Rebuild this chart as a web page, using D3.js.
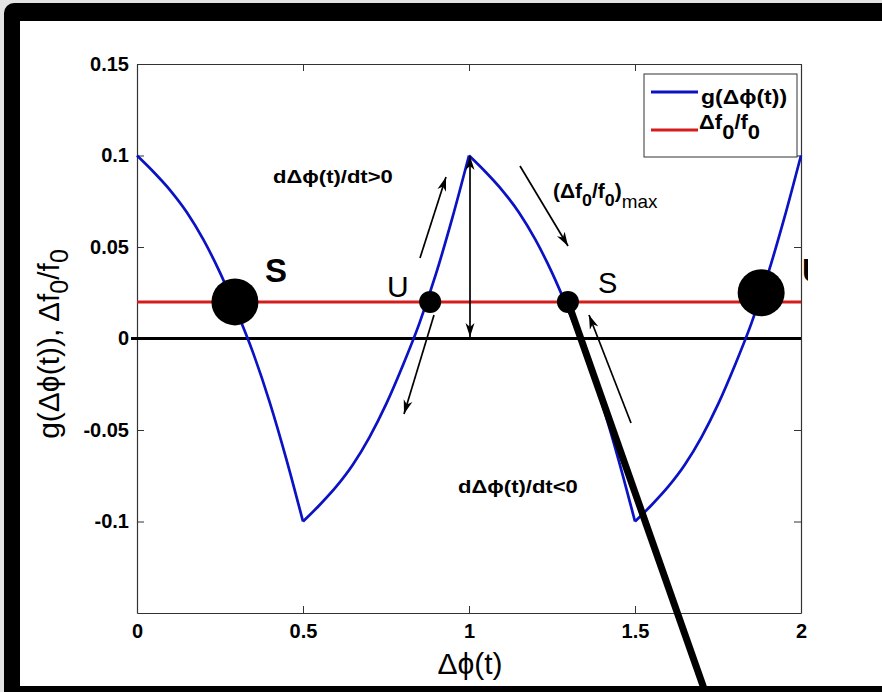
<!DOCTYPE html>
<html><head><meta charset="utf-8">
<script src="https://cdn.jsdelivr.net/npm/d3@7"></script>
<style>body{margin:0;background:#fff;overflow:hidden}</style>
</head><body>
<script>
// ---- data ----
const phi = [0,0.05,0.10,0.15,0.20,0.25,0.30,0.35,0.40,0.45,0.50,
             0.55,0.60,0.65,0.70,0.75,0.80,0.85,0.90,0.95,1.00,
             1.05,1.10,1.15,1.20,1.25,1.30,1.35,1.40,1.45,1.50,
             1.55,1.60,1.65,1.70,1.75,1.80,1.85,1.90,1.95,2.00];
const gVals = [0.100,0.091,0.081,0.069,0.054,0.036,0.015,-0.008,-0.035,-0.066,-0.100,
               -0.091,-0.081,-0.069,-0.054,-0.036,-0.015,0.008,0.035,0.066,0.100,
               0.091,0.081,0.069,0.054,0.036,0.015,-0.008,-0.035,-0.066,-0.100,
               -0.091,-0.081,-0.069,-0.054,-0.036,-0.015,0.008,0.035,0.066,0.100];
const branchBreaks = [0, 10, 20, 30, 40];   // indices of the cusps
const levelPhi = [0, 2];
const levelVals = [0.02, 0.02];
const xTicks = [0, 0.5, 1, 1.5, 2];
const xTickLabels = ["0", "0.5", "1", "1.5", "2"];
const yTicks = [0.15, 0.1, 0.05, 0, -0.05, -0.1];
const yTickLabels = ["0.15", "0.1", "0.05", "0", "-0.05", "-0.1"];
const bigDotPhi = [0.295, 1.88];
const bigDotVal = [0.02, 0.025];
const smallDotPhi = [0.883, 1.298];
const smallDotVal = [0.02, 0.02];

// ---- setup ----
const W = 882, H = 692;
const FONT = "'Liberation Sans', Arial, Helvetica, sans-serif";
const PHI = "\u03D5";
const svg = d3.select("body").append("svg").attr("width", W).attr("height", H)
  .style("font-family", FONT);

// frame
svg.append("rect").attr("width", W).attr("height", H).attr("fill", "#e4e4e4");
svg.append("rect").attr("x", 4).attr("y", 3).attr("width", W + 20).attr("height", H + 20)
  .attr("rx", 10).attr("fill", "#000");
svg.append("rect").attr("x", 20).attr("y", 21).attr("width", W - 20).attr("height", 665).attr("fill", "#fff");

const x = d3.scaleLinear().domain([0, 2]).range([137, 801]);
const y = d3.scaleLinear().domain([-0.15, 0.15]).range([613, 64]);

const defs = svg.append("defs");
defs.append("marker").attr("id", "ah").attr("viewBox", "0 0 14 10")
  .attr("refX", 14).attr("refY", 5).attr("markerWidth", 14).attr("markerHeight", 10)
  .attr("markerUnits", "userSpaceOnUse").attr("orient", "auto-start-reverse")
  .append("path").attr("d", "M0,0.5 L14,5 L0,9.5 L4,5 Z").attr("fill", "#000");
defs.append("clipPath").attr("id", "uclip").append("rect")
  .attr("x", 790).attr("y", 240).attr("width", 18).attr("height", 60);

// axes box
const axisCol = "#333";
const gx = svg.append("g").attr("transform", `translate(0,${y(-0.15)})`)
  .call(d3.axisBottom(x).tickValues(xTicks).tickFormat((d, i) => xTickLabels[i]).tickSizeInner(-7).tickSizeOuter(0).tickPadding(11));
const gxt = svg.append("g").attr("transform", `translate(0,${y(0.15)})`)
  .call(d3.axisTop(x).tickValues(xTicks).tickFormat("").tickSizeInner(-7).tickSizeOuter(0));
const gy = svg.append("g").attr("transform", `translate(${x(0)},0)`)
  .call(d3.axisLeft(y).tickValues(yTicks).tickFormat((d, i) => yTickLabels[i]).tickSizeInner(-7).tickSizeOuter(0).tickPadding(8));
const gyr = svg.append("g").attr("transform", `translate(${x(2)},0)`)
  .call(d3.axisRight(y).tickValues(yTicks).tickFormat("").tickSizeInner(-7).tickSizeOuter(0));
[gx, gxt, gy, gyr].forEach(g => {
  g.select(".domain").attr("stroke", axisCol).attr("stroke-width", 1.2);
  g.selectAll(".tick line").attr("stroke", axisCol).attr("stroke-width", 1);
  g.selectAll("text").attr("font-size", 20).attr("font-weight", "bold").attr("fill", "#000")
    .attr("font-family", FONT);
});

// zero line
svg.append("line").attr("x1", x(0) - 6).attr("x2", x(2)).attr("y1", y(0)).attr("y2", y(0))
  .attr("stroke", "#000").attr("stroke-width", 3);

// level line
const line = d3.line().x(d => x(d[0])).y(d => y(d[1]));
svg.append("path").datum(levelPhi.map((p, i) => [p, levelVals[i]]))
  .attr("d", line).attr("fill", "none").attr("stroke", "#d41c1c").attr("stroke-width", 3);

// g curve, drawn branch by branch (smooth between cusps)
const pts = phi.map((p, i) => [p, gVals[i]]);
const smooth = d3.line().x(d => x(d[0])).y(d => y(d[1])).curve(d3.curveMonotoneX);
for (let b = 0; b < branchBreaks.length - 1; b++) {
  svg.append("path").datum(pts.slice(branchBreaks[b], branchBreaks[b + 1] + 1))
    .attr("d", smooth).attr("fill", "none").attr("stroke", "#0a12c4")
    .attr("stroke-width", 2.7).attr("stroke-linejoin", "miter");
}

// arrows
function arrow(x1, y1, x2, y2, both) {
  const l = svg.append("line").attr("x1", x1).attr("y1", y1).attr("x2", x2).attr("y2", y2)
    .attr("stroke", "#000").attr("stroke-width", 1.7).attr("marker-end", "url(#ah)");
  if (both) l.attr("marker-start", "url(#ah)");
}
arrow(420, 258, 446, 177);
arrow(434, 315, 404, 414);
arrow(470, 337, 470, 156, true);
arrow(520, 166, 568, 246);
arrow(631, 423, 589, 315);

// dots
svg.selectAll(".bd").data(bigDotPhi).enter().append("circle")
  .attr("cx", d => x(d)).attr("cy", (d, i) => y(bigDotVal[i])).attr("r", 23.5).attr("fill", "#000");
svg.selectAll(".sd").data(smallDotPhi).enter().append("circle")
  .attr("cx", d => x(d)).attr("cy", (d, i) => y(smallDotVal[i])).attr("r", 11).attr("fill", "#000");

// thick pointer line
svg.append("line").attr("x1", x(smallDotPhi[1])).attr("y1", y(smallDotVal[1]))
  .attr("x2", 708).attr("y2", 700).attr("stroke", "#000").attr("stroke-width", 7);

// helper for (slightly wide) text
function txt(px, py, size, sx, weight) {
  return svg.append("text").attr("transform", `translate(${px},${py}) scale(${sx},1)`)
    .attr("font-size", size).attr("font-weight", weight || "normal");
}

// point labels
txt(265, 282, 33, 1, "bold").text("S");
txt(387, 297, 30, 1).text("U");
txt(598, 293, 29, 1).text("S");
svg.append("text").attr("x", 802).attr("y", 282).attr("font-size", 33).attr("font-weight", "bold")
  .attr("clip-path", "url(#uclip)").text("U");

// annotations
txt(273, 183, 19, 1.16, "bold").text(`dΔ${PHI}(t)/dt>0`);
txt(458, 493, 19, 1.16, "bold").text(`dΔ${PHI}(t)/dt<0`);
const t3 = txt(553, 198, 20, 1.05, "bold");
t3.append("tspan").text("(Δf");
t3.append("tspan").attr("dy", 8).attr("font-size", 17).text("0");
t3.append("tspan").attr("dy", -8).text("/f");
t3.append("tspan").attr("dy", 8).attr("font-size", 17).text("0");
t3.append("tspan").attr("dy", -8).text(")");
t3.append("tspan").attr("dy", 10).attr("font-size", 18).attr("font-weight", "normal").text("max");

// legend
const lg = svg.append("g");
lg.append("rect").attr("x", 644).attr("y", 74).attr("width", 153).attr("height", 83)
  .attr("fill", "#fff").attr("stroke", "#333").attr("stroke-width", 1);
lg.append("line").attr("x1", 651).attr("x2", 698).attr("y1", 92).attr("y2", 92).attr("stroke", "#0a12c4").attr("stroke-width", 3);
lg.append("line").attr("x1", 651).attr("x2", 698).attr("y1", 130).attr("y2", 130).attr("stroke", "#d41c1c").attr("stroke-width", 3);
txt(701, 104, 20, 1.15, "bold").text(`g(Δ${PHI}(t))`);
const lt = txt(699, 129, 20, 1.1, "bold");
lt.append("tspan").text("Δf");
lt.append("tspan").attr("dy", 10).text("0");
lt.append("tspan").attr("dy", -10).text("/f");
lt.append("tspan").attr("dy", 10).text("0");

// axis titles
svg.append("text").attr("x", 470).attr("y", 674).attr("text-anchor", "middle").attr("font-size", 30).text(`Δ${PHI}(t)`);
const yl = svg.append("text").attr("transform", "translate(59,344) rotate(-90)")
  .attr("text-anchor", "middle").attr("font-size", 30);
yl.append("tspan").text(`g(Δ${PHI}(t)), Δf`);
yl.append("tspan").attr("dy", 9).attr("font-size", 25).text("0");
yl.append("tspan").attr("dy", -9).text("/f");
yl.append("tspan").attr("dy", 9).attr("font-size", 25).text("0");
</script>
</body></html>
